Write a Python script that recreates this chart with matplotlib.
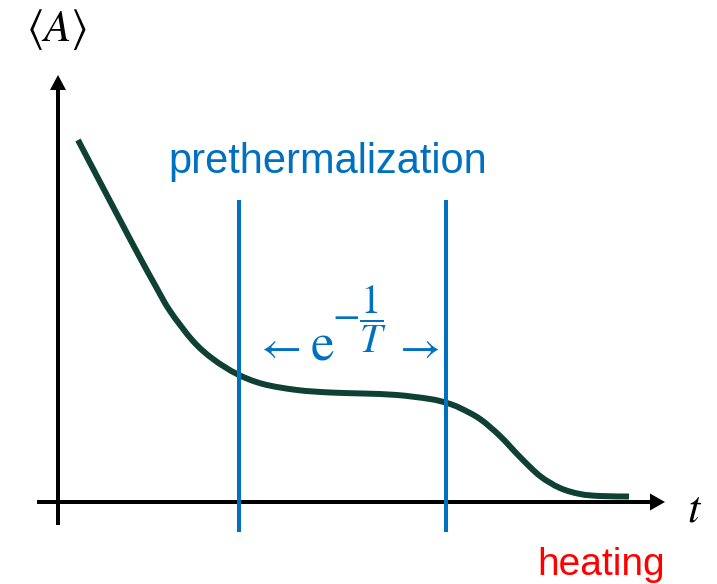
import matplotlib
matplotlib.use('Agg')
import matplotlib.pyplot as plt
import numpy as np
from matplotlib.path import Path
from matplotlib.patches import PathPatch

plt.rcParams['mathtext.fontset'] = 'stix'

# schematic curve <A>(t) (arbitrary units)
t_vals = [2.0, 4.2, 6.2, 8.0, 9.7, 11.2, 13.5, 15.5, 17.9, 20.5, 23.9, 27.2,
          30.5, 33.9, 37.2, 38.9, 40.2, 42.2, 44.2, 46.2, 48.2, 50.2, 52.2,
          54.2, 57.1]
A_vals = [36.2, 32.0, 28.2, 24.8, 21.7, 19.1, 16.1, 14.3, 12.8, 11.8, 11.2, 10.95,
          10.85, 10.7, 10.3, 9.9, 9.4, 8.3, 6.6, 4.5, 2.6, 1.4, 0.8,
          0.6, 0.55]

# prethermal window boundaries
window_t = [18.1, 38.8]
window_A = (-3.0, 30.2)

blue = '#0070C0'
green = '#0E4034'

fig = plt.figure(figsize=(7.17, 5.84), dpi=100)
ax = fig.add_axes([0, 0, 1, 1])
ax.set_xlim(-5.8, 65.9)
ax.set_ylim(-8.2, 50.2)
ax.axis('off')

# axes arrows
ax.arrow(0, -2.3, 0, 45.0, width=0.4, head_width=1.6, head_length=1.5,
         length_includes_head=True, color='black', lw=0)
ax.arrow(-2.1, 0, 62.8, 0, width=0.4, head_width=1.7, head_length=1.5,
         length_includes_head=True, color='black', lw=0)

# window lines
for tw in window_t:
    ax.plot([tw, tw], window_A, color=blue, lw=2.9, solid_capstyle='butt')

# curve: smooth bezier path through the read points
pts = np.column_stack([t_vals, A_vals])
padded = np.vstack([pts[0], pts, pts[-1]])
verts = [pts[0]]
codes = [Path.MOVETO]
for i in range(len(pts) - 1):
    p0, p1, p2, p3 = padded[i], padded[i + 1], padded[i + 2], padded[i + 3]
    verts += [p1 + (p2 - p0) / 6, p2 - (p3 - p1) / 6, p2]
    codes += [Path.CURVE4] * 3
ax.add_patch(PathPatch(Path(verts, codes), facecolor='none', edgecolor=green,
                       lw=4.3, capstyle='butt', joinstyle='round'))

# labels
ax.text(-0.1, 47.2, r'$\langle A\rangle$', fontsize=32, ha='center', va='center')
ax.text(63.7, -2.0, r'$t$', fontsize=32, ha='center', va='baseline')
ax.text(27.0, 32.9, 'prethermalization', fontsize=30, color=blue,
        family='Liberation Sans', ha='center', va='baseline')
ax.text(54.35, -7.3, 'heating', fontsize=28, color='red',
        family='Liberation Sans', ha='center', va='baseline')

ax.text(21.9, 15.5, r'$\leftarrow$', fontsize=32, color=blue, ha='center', va='center')
ax.text(26.4, 14.2, r'$\mathrm{e}$', fontsize=38, color=blue, ha='center', va='baseline')
ax.text(30.2, 18.3, r'$-\dfrac{1}{T}$', fontsize=29, color=blue, ha='center', va='center')
ax.text(35.8, 15.5, r'$\rightarrow$', fontsize=32, color=blue, ha='center', va='center')

fig.savefig('out.png', dpi=100)
